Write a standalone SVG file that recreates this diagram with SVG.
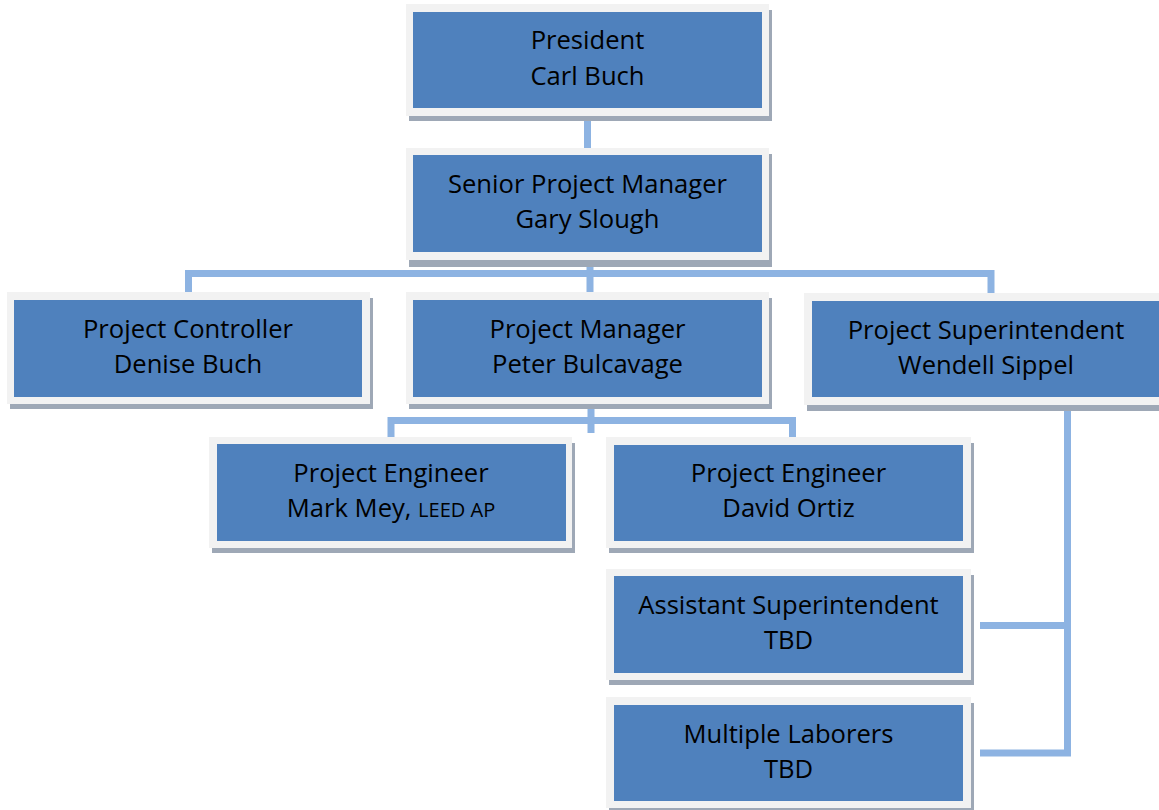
<svg xmlns="http://www.w3.org/2000/svg" width="1159" height="810" viewBox="0 0 1159 810">
<style>
.sh{fill:#9ea8b6}
.fr{fill:#f2f2f2}
.bx{fill:#4f81bd}
.t{font-family:"Open Sans",Lato,sans-serif;font-size:25.6px;fill:#000;text-anchor:middle}
.s{font-size:20px}
.c{stroke:#8db3e2;stroke-width:7;fill:none}
</style>
<rect width="1159" height="810" fill="#fff"/>
<g id="connectors">
<path class="c" d="M587.5 116V148"/>
<path class="c" d="M590 260V292M188.5 292V273.5H991V293"/>
<path class="c" d="M591 409V433M391 437V420.5H792.5V437"/>
<path class="c" d="M1067.5 410V753H980M1067.5 625.5H980"/>
</g>
<g id="president">
<rect class="sh" x="409" y="10" width="363" height="111"/>
<rect class="fr" x="406" y="4" width="363" height="112"/>
<rect class="bx" x="413" y="12" width="349" height="96"/>
<text class="t" x="587.5" y="49">President</text>
<text class="t" x="587.5" y="85">Carl Buch</text>
</g>
<g id="senior-pm">
<rect class="sh" x="409" y="154" width="363" height="113"/>
<rect class="fr" x="406" y="148" width="363" height="112"/>
<rect class="bx" x="413" y="155" width="349" height="97"/>
<text class="t" x="587.5" y="193">Senior Project Manager</text>
<text class="t" x="587.5" y="228">Gary Slough</text>
</g>
<g id="project-controller">
<rect class="sh" x="10" y="298" width="363" height="111"/>
<rect class="fr" x="7" y="292" width="363" height="112"/>
<rect class="bx" x="14" y="300" width="348" height="97"/>
<text class="t" x="188" y="338">Project Controller</text>
<text class="t" x="188" y="373">Denise Buch</text>
</g>
<g id="project-manager">
<rect class="sh" x="409" y="298" width="363" height="111"/>
<rect class="fr" x="406" y="292" width="363" height="112"/>
<rect class="bx" x="413" y="300" width="349" height="97"/>
<text class="t" x="587.5" y="338">Project Manager</text>
<text class="t" x="587.5" y="373">Peter Bulcavage</text>
</g>
<g id="project-superintendent">
<rect class="sh" x="807" y="299" width="363" height="112"/>
<rect class="fr" x="804" y="293" width="363" height="112"/>
<rect class="bx" x="812" y="301" width="349" height="96"/>
<text class="t" x="986" y="339">Project Superintendent</text>
<text class="t" x="986" y="374">Wendell Sippel</text>
</g>
<g id="engineer-mey">
<rect class="sh" x="212" y="443" width="363" height="110"/>
<rect class="fr" x="209" y="437" width="363" height="111"/>
<rect class="bx" x="217" y="444" width="349" height="97"/>
<text class="t" x="391" y="482">Project Engineer</text>
<text class="t" x="391" y="517">Mark Mey, <tspan class="s">LEED AP</tspan></text>
</g>
<g id="engineer-ortiz">
<rect class="sh" x="609" y="443" width="365" height="110"/>
<rect class="fr" x="606" y="437" width="365" height="111"/>
<rect class="bx" x="614" y="445" width="349" height="96"/>
<text class="t" x="788.5" y="482">Project Engineer</text>
<text class="t" x="788.5" y="517">David Ortiz</text>
</g>
<g id="assistant-superintendent">
<rect class="sh" x="609" y="575" width="365" height="110"/>
<rect class="fr" x="606" y="569" width="365" height="111"/>
<rect class="bx" x="614" y="576" width="349" height="97"/>
<text class="t" x="788.5" y="614">Assistant Superintendent</text>
<text class="t" x="788.5" y="649">TBD</text>
</g>
<g id="multiple-laborers">
<rect class="sh" x="609" y="703" width="365" height="110"/>
<rect class="fr" x="606" y="697" width="365" height="111"/>
<rect class="bx" x="614" y="705" width="349" height="96"/>
<text class="t" x="788.5" y="743">Multiple Laborers</text>
<text class="t" x="788.5" y="778">TBD</text>
</g>
</svg>
